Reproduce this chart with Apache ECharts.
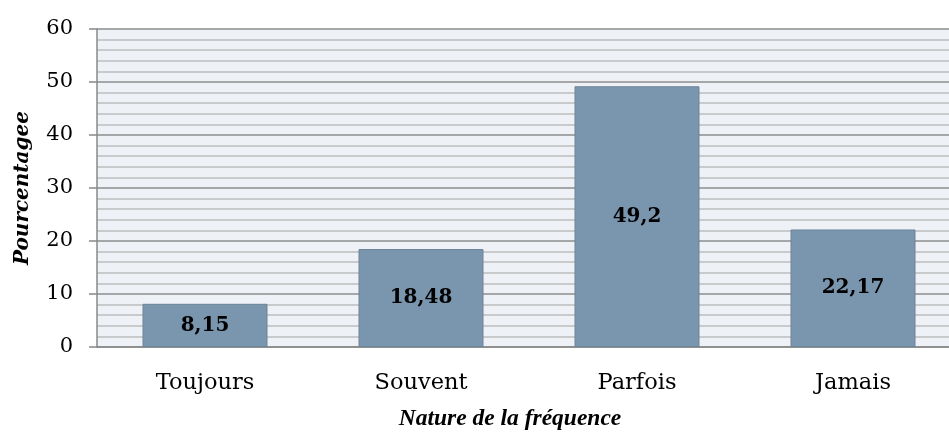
<!DOCTYPE html>
<html><head><meta charset="utf-8">
<script src="https://cdn.jsdelivr.net/npm/echarts@6/dist/echarts.min.js"></script>
<style>html,body{margin:0;padding:0;background:#fff}#c{width:949px;height:436px}</style>
</head><body><div id="c"></div>
<script>
const categories = ['Toujours', 'Souvent', 'Parfois', 'Jamais'];
const values = [8.15, 18.48, 49.2, 22.17];
const yTicks = [0, 10, 20, 30, 40, 50, 60];
const xTitle = 'Nature de la fréquence';
const yTitle = 'Pourcentagee';

const font = '"DejaVu Serif", "Liberation Serif", serif';
const titleFont = '"Liberation Serif", "DejaVu Serif", serif';
const chart = echarts.init(document.getElementById('c'));
chart.setOption({
  animation: false,
  grid: { left: 97, top: 29, width: 864, height: 318, outerBoundsMode: 'none', containLabel: false },
  xAxis: {
    type: 'category', data: categories,
    axisLine: { lineStyle: { color: '#888', width: 1.5 } },
    axisTick: { show: false },
    axisLabel: { color: '#000', fontFamily: font, fontSize: 22.5, margin: 25 },
    name: xTitle, nameLocation: 'middle', nameGap: 60,
    nameTextStyle: { color: '#000', fontFamily: titleFont, fontSize: 23.5, fontWeight: 'bold', fontStyle: 'italic', padding: [0, 38, 0, 0] }
  },
  yAxis: {
    type: 'value', min: yTicks[0], max: yTicks[yTicks.length - 1], interval: 10,
    axisLine: { show: true, lineStyle: { color: '#888', width: 1.5 } },
    axisTick: { show: true, length: 8, lineStyle: { color: '#888', width: 1.5 } },
    axisLabel: { color: '#000', fontFamily: font, fontSize: 21, margin: 24 },
    splitLine: { show: true, lineStyle: { color: '#8c8c8c', width: 1.5 } },
    minorTick: { show: false, splitNumber: 5 },
    minorSplitLine: { show: true, lineStyle: { color: '#bdbdbd', width: 1.5 } },
    splitArea: { show: true, areaStyle: { color: ['#eef1f6', '#eef1f6'] } },
    name: yTitle, nameLocation: 'middle', nameGap: 64, nameRotate: 90,
    nameTextStyle: { color: '#000', fontFamily: font, fontSize: 20, fontWeight: 'bold', fontStyle: 'italic' }
  },
  series: [{
    type: 'bar', data: values, barWidth: 125,
    itemStyle: { color: '#7a96ae', borderColor: '#6a8499', borderWidth: 1 },
    label: {
      show: true, position: 'inside', color: '#000', fontFamily: font, fontSize: 20, fontWeight: 'bold',
      formatter: p => String(p.value).replace('.', ',')
    }
  }]
});
</script></body></html>
